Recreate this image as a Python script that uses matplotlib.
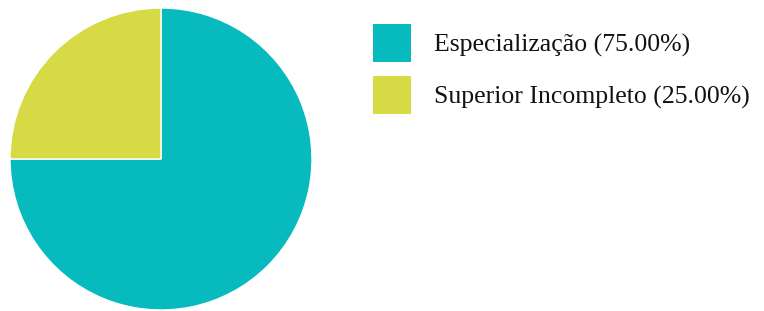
import matplotlib.pyplot as plt
from matplotlib.patches import Rectangle

labels = ['Especialização', 'Superior Incompleto']
values = [75.0, 25.0]
colors = ['#06BABE', '#D5DA45']

W, H = 764, 311
plt.rcParams['font.family'] = ['Liberation Serif', 'DejaVu Serif']
fig = plt.figure(figsize=(W / 100, H / 100), dpi=100)

# pie axes: center ~(161,159), radius ~151
cx, cy, r = 161, 159, 151
ax = fig.add_axes([(cx - r) / W, (H - cy - r) / H, 2 * r / W, 2 * r / H])
wedges, _ = ax.pie(values, colors=colors, startangle=90, counterclock=False,
                   radius=1, wedgeprops={'edgecolor': 'white', 'linewidth': 1})
ax.set_xlim(-1, 1)
ax.set_ylim(-1, 1)
ax.set_aspect('equal')
ax.axis('off')

# legend drawn by hand, in pixel coordinates from the top-left
total = sum(values)
box_x, box_y, box_s, step = 373, 24, 38, 52
for i, (lab, val, col) in enumerate(zip(labels, values, colors)):
    y0 = box_y + i * step
    fig.add_artist(Rectangle((box_x / W, 1 - (y0 + box_s) / H), box_s / W, box_s / H,
                             transform=fig.transFigure, facecolor=col, edgecolor='none'))
    fig.text(434 / W, 1 - (y0 + box_s / 2) / H, f'{lab} ({val / total * 100:.2f}%)',
             fontsize=18.5, va='center_baseline', ha='left', color='#111111')

fig.savefig('out.png', dpi=100)
